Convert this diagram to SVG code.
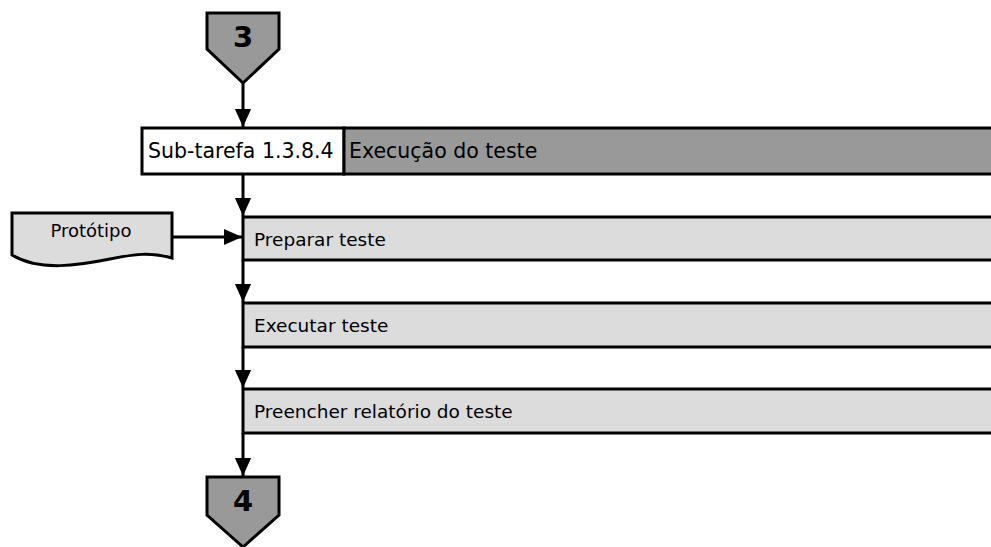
<svg xmlns="http://www.w3.org/2000/svg" width="991" height="547" viewBox="0 0 991 547">
<style>
.t{font-family:"DejaVu Sans",Verdana,sans-serif;fill:#000}
.row{fill:#dcdcdc;stroke:#000;stroke-width:3}
.pent{fill:#999;stroke:#000;stroke-width:3}
.ln{stroke:#000;stroke-width:3;fill:none}
</style>
<defs>
<marker id="ah" markerUnits="userSpaceOnUse" markerWidth="18" markerHeight="22" refX="20" refY="9" orient="auto" viewBox="0 0 20 18">
<path d="M0,0 L20,9 L0,18 Z" fill="#000"/>
</marker>
</defs>
<rect x="0" y="0" width="991" height="547" fill="#fff"/>
<g id="conn3">
<polygon class="pent" points="207,13 279,13 279,49 243,83 207,49"/>
<text class="t" x="243" y="47" font-size="29" font-weight="bold" text-anchor="middle">3</text>
</g>
<g id="header">
<rect x="142" y="128" width="202" height="46" fill="#fff" stroke="#000" stroke-width="3"/>
<rect x="344" y="128" width="660" height="46" fill="#999" stroke="#000" stroke-width="3"/>
<text class="t" x="148" y="158" font-size="20.5">Sub-tarefa 1.3.8.4</text>
<text class="t" x="349" y="158" font-size="20.5">Execução do teste</text>
</g>
<g id="prototipo">
<path d="M12,213 L172,213 L172,258 C150,252 135,254 110,259 C80,265 40,272 12,255 Z" fill="#dcdcdc" stroke="#000" stroke-width="3"/>
<text class="t" x="91" y="237" font-size="18" text-anchor="middle">Protótipo</text>
</g>
<g id="preparar">
<rect class="row" x="243" y="217" width="760" height="43"/>
<text class="t" x="254" y="246" font-size="18.5">Preparar teste</text>
</g>
<g id="executar">
<rect class="row" x="243" y="303" width="760" height="44"/>
<text class="t" x="254" y="332" font-size="18.5">Executar teste</text>
</g>
<g id="preencher">
<rect class="row" x="243" y="389" width="760" height="44"/>
<text class="t" x="254" y="418" font-size="18.5">Preencher relatório do teste</text>
</g>
<g id="conn4">
<polygon class="pent" points="207,477 279,477 279,515 243,547 207,515"/>
<text class="t" x="243" y="511" font-size="29" font-weight="bold" text-anchor="middle">4</text>
</g>
<g id="connectors">
<line class="ln" x1="243" y1="83" x2="243" y2="127" marker-end="url(#ah)"/>
<line class="ln" x1="243" y1="174" x2="243" y2="216" marker-end="url(#ah)"/>
<line class="ln" x1="243" y1="260" x2="243" y2="302" marker-end="url(#ah)"/>
<line class="ln" x1="243" y1="347" x2="243" y2="388" marker-end="url(#ah)"/>
<line class="ln" x1="243" y1="433" x2="243" y2="476" marker-end="url(#ah)"/>
<line class="ln" x1="172" y1="237" x2="242" y2="237" marker-end="url(#ah)"/>
</g>
</svg>
